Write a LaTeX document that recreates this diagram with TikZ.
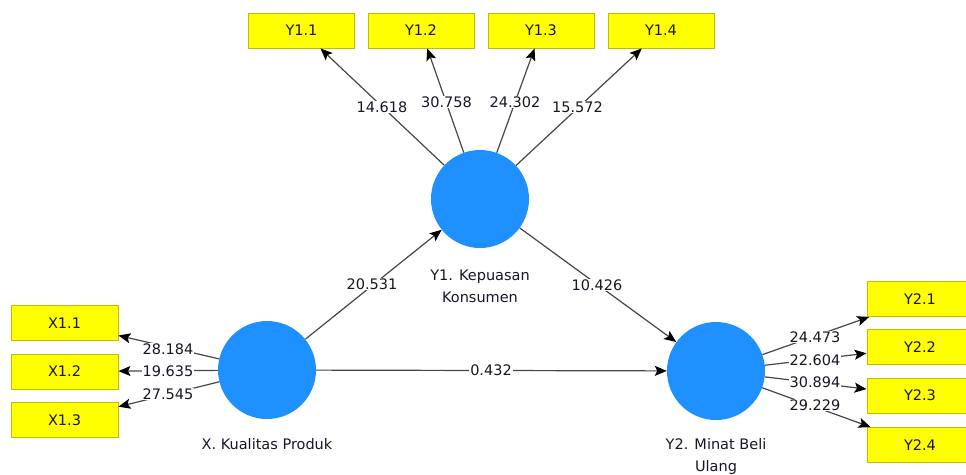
\documentclass[tikz,border=0pt]{standalone}
\usepackage{fontspec}
\setmainfont{DejaVu Sans}
\usetikzlibrary{arrows.meta}
\definecolor{lvblue}{RGB}{30,144,255}
\definecolor{indyellow}{RGB}{255,255,0}
\definecolor{indborder}{RGB}{190,190,0}
\definecolor{linegray}{RGB}{70,70,70}
\definecolor{txtcol}{RGB}{25,20,40}
\begin{document}
\begin{tikzpicture}[x=1pt,y=-1pt,
  lv/.style={circle,fill=lvblue,minimum size=98pt,inner sep=0pt},
  ind/.style={rectangle,fill=indyellow,draw=indborder,line width=0.9pt,minimum width=106pt,minimum height=35pt,inner sep=0pt,text=txtcol,font=\fontsize{14.5}{16}\selectfont},
  lbl/.style={fill=white,inner sep=1pt,text=txtcol,font=\fontsize{14.5}{16}\selectfont},
  lvtxt/.style={align=center,inner sep=0pt,text=txtcol,font=\fontsize{14.5}{22}\selectfont},
  conn/.style={draw=linegray,line width=1.2pt,-{Stealth[length=12pt,width=10pt,inset=2.5pt,color=black]}}]
\useasboundingbox (0,0) rectangle (966,474);
\clip (0,0) rectangle (966,474);
% latent variables
\node[lv] (Y1) at (480,199) {};
\node[lv] (X) at (267,370) {};
\node[lv] (Y2) at (716,371) {};
% indicators
\node[ind] (y11) at (301.5,30.5) {Y1.1};
\node[ind] (y12) at (421,30.5) {Y1.2};
\node[ind] (y13) at (541,30.5) {Y1.3};
\node[ind] (y14) at (661,30.5) {Y1.4};
\node[ind,minimum width=107pt] (x11) at (64.5,323) {X1.1};
\node[ind,minimum width=107pt] (x12) at (64.5,371.5) {X1.2};
\node[ind,minimum width=107pt] (x13) at (64.5,420) {X1.3};
\node[ind] (y21) at (920,299) {Y2.1};
\node[ind] (y22) at (920,347) {Y2.2};
\node[ind] (y23) at (920,395.5) {Y2.3};
\node[ind] (y24) at (920,445) {Y2.4};
% connectors
\draw[conn] (Y1) -- (y11);
\draw[conn] (Y1) -- (y12);
\draw[conn] (Y1) -- (y13);
\draw[conn] (Y1) -- (y14);
\draw[conn] (X) -- (x11);
\draw[conn] (X) -- (x12);
\draw[conn] (X) -- (x13);
\draw[conn] (Y2) -- (y21);
\draw[conn] (Y2) -- (y22);
\draw[conn] (Y2) -- (y23);
\draw[conn] (Y2) -- (y24);
\draw[conn] (X) -- (Y1);
\draw[conn] (X) -- (Y2);
\draw[conn] (Y1) -- (Y2);
% path coefficients / loadings
\node[lbl] (l1) at (382,107) {14.618};
\node[lbl] (l2) at (446.5,102) {30.758};
\node[lbl] (l3) at (515,102) {24.302};
\node[lbl] (l4) at (577.5,107) {15.572};
\node[lbl] (l5) at (168,349) {28.184};
\node[lbl] (l6) at (168,371) {19.635};
\node[lbl] (l7) at (168,394) {27.545};
\node[lbl] (l8) at (815,337) {24.473};
\node[lbl] (l9) at (815,360) {22.604};
\node[lbl] (l10) at (815,382) {30.894};
\node[lbl] (l11) at (815,405) {29.229};
\node[lbl] (l12) at (372,284) {20.531};
\node[lbl] (l13) at (597,285) {10.426};
\node[lbl] (l14) at (491,370) {0.432};
% latent names
\node[lvtxt] (Y1t) at (480,286) {Y1. Kepuasan\\Konsumen};
\node[lvtxt] (Xt) at (267,444) {X. Kualitas Produk};
\node[lvtxt] (Y2t) at (716,456) {Y2. Minat Beli\\Ulang};
\end{tikzpicture}
\end{document}
